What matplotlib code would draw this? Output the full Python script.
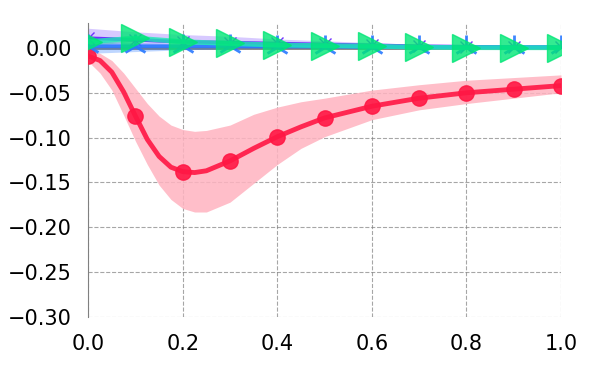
import numpy as np
import matplotlib
matplotlib.use('Agg')
import matplotlib.pyplot as plt

# red series, read at 0.025 / 0.05 steps
x_red = [0.0, 0.025, 0.05, 0.075, 0.1, 0.125, 0.15, 0.175, 0.2, 0.225, 0.25, 0.3, 0.35,
         0.4, 0.45, 0.5, 0.6, 0.7, 0.8, 0.9, 1.0]
y_red = [-0.009, -0.014, -0.027, -0.049, -0.076, -0.102, -0.121, -0.133, -0.138,
         -0.139, -0.137, -0.126, -0.112, -0.099, -0.088, -0.078, -0.065, -0.056,
         -0.050, -0.046, -0.042]
red_hi = [-0.002, -0.006, -0.014, -0.028, -0.045, -0.062, -0.076, -0.086, -0.091,
          -0.093, -0.092, -0.086, -0.074, -0.066, -0.060, -0.056, -0.047, -0.041,
          -0.036, -0.033, -0.030]
red_lo = [-0.015, -0.028, -0.047, -0.075, -0.104, -0.130, -0.153, -0.169, -0.179,
          -0.183, -0.183, -0.172, -0.151, -0.130, -0.112, -0.099, -0.080, -0.069,
          -0.062, -0.056, -0.050]
red_marks = [0, 4, 8, 11, 13, 15, 16, 17, 18, 19, 20]

# near-zero series at 0.1 steps
x = [0.0, 0.1, 0.2, 0.3, 0.4, 0.5, 0.6, 0.7, 0.8, 0.9, 1.0]
y_purple = [0.011, 0.009, 0.007, 0.006, 0.005, 0.004, 0.003, 0.002, 0.0015, 0.001, 0.001]
purple_hi = [0.022, 0.018, 0.015, 0.013, 0.010, 0.008, 0.006, 0.004, 0.003, 0.002, 0.002]
purple_lo = [0.002, 0.002, 0.001, 0.001, 0.001, 0.001, 0.0005, 0.0, 0.0, 0.0, 0.0]
y_blue = [0.002, 0.002, 0.002, 0.002, 0.0015, 0.0015, 0.001, 0.001, 0.001, 0.001, 0.001]
blue_hi = [0.008, 0.006, 0.005, 0.004, 0.003, 0.003, 0.002, 0.002, 0.002, 0.002, 0.002]
blue_lo = [-0.006, -0.004, -0.002, -0.001, 0.0, 0.0, 0.0, 0.0, 0.0, 0.0, 0.0]
y_green = [0.007, 0.011, 0.007, 0.005, 0.0033, 0.0026, 0.002, 0.0008, 0.0004, 0.0003, 0.0003]
green_hi = [0.010, 0.013, 0.009, 0.006, 0.004, 0.003, 0.0025, 0.0012, 0.0008, 0.0006, 0.0006]
green_lo = [0.002, 0.008, 0.005, 0.004, 0.0025, 0.002, 0.0015, 0.0004, 0.0, 0.0, 0.0]

fig = plt.figure(figsize=(6, 3.75), dpi=100)
ax = fig.add_axes([0.147, 0.155, 0.788, 0.784])

ax.axhline(0, color='gray', lw=2, zorder=1)

ax.fill_between(x_red, red_lo, red_hi, color='#ffb3c0', alpha=0.85, lw=0, zorder=2)
ax.plot(x_red, y_red, color='#ff1744', lw=3.5, marker='o', ms=11,
        markevery=red_marks, alpha=0.9, zorder=3)

ax.fill_between(x, purple_lo, purple_hi, color='#7c4dff', alpha=0.3, lw=0, zorder=2)
ax.plot(x, y_purple, color='#651fff', lw=2.5, marker='x', ms=8, alpha=0.9, zorder=3)

ax.fill_between(x, blue_lo, blue_hi, color='#2979ff', alpha=0.3, lw=0, zorder=2)
ax.plot(x, y_blue, color='#2979ff', lw=2.5, marker='2', ms=18, mew=2, alpha=0.9, zorder=3)

ax.fill_between(x, green_lo, green_hi, color='#00e676', alpha=0.3, lw=0, zorder=2)
ax.plot(x, y_green, color='#1de9b6', lw=3.5, marker='>', ms=20, alpha=0.8, zorder=4,
        markerfacecolor='#00e676', markeredgecolor='#00e676')

ax.set_xlim(0, 1.0)
ax.set_ylim(-0.30, 0.028)
ax.set_xticks([0.0, 0.2, 0.4, 0.6, 0.8, 1.0])
ax.set_yticks([0.0, -0.05, -0.10, -0.15, -0.20, -0.25, -0.30])
ax.grid(True, ls='--', color='gray', alpha=0.7, lw=0.8)
ax.tick_params(length=0, labelsize=15)
ax.tick_params(axis='x', pad=12)
ax.tick_params(axis='y', pad=12)
for s in ['top', 'right', 'bottom']:
    ax.spines[s].set_visible(False)
ax.spines['left'].set_color('gray')

fig.savefig('out.png')
